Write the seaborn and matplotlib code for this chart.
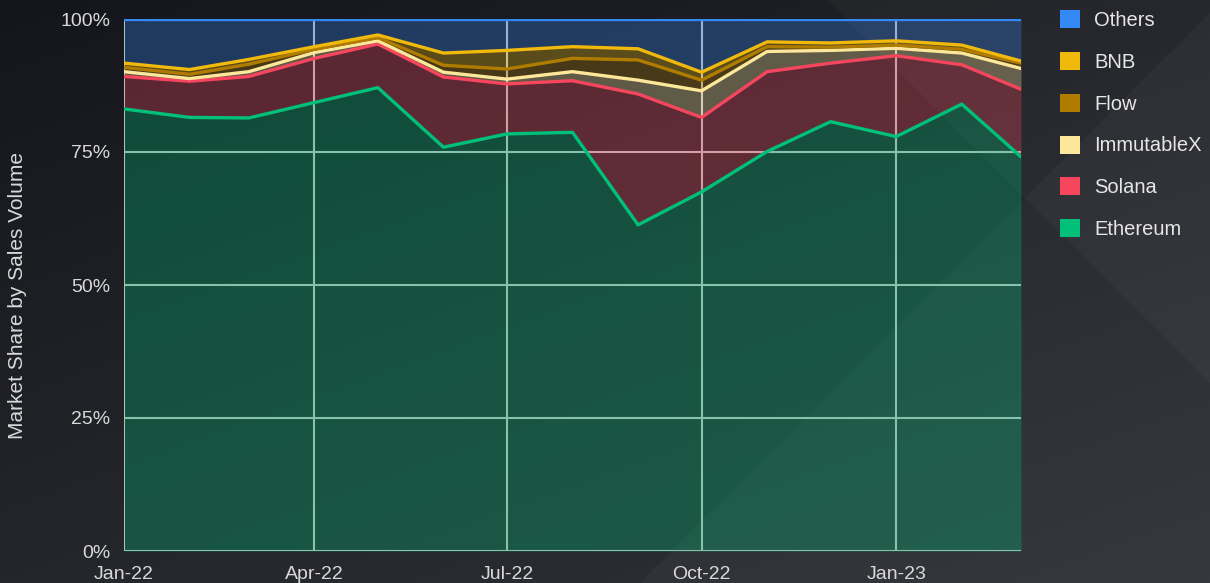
import matplotlib
matplotlib.use("Agg")
import matplotlib.pyplot as plt
from matplotlib.patches import Patch, Polygon
import numpy as np
import pandas as pd
import seaborn as sns

# monthly market share (%) by NFT sales volume, Jan-22 .. Mar-23
months = ["2022-01", "2022-02", "2022-03", "2022-04", "2022-05", "2022-06", "2022-07",
          "2022-08", "2022-09", "2022-10", "2022-11", "2022-12", "2023-01", "2023-02", "2023-03"]
ethereum = [83.1, 81.5, 81.4, 84.3, 87.1, 75.9, 78.4, 78.7, 61.3, 67.5, 75.1, 80.7, 77.9, 84.0, 74.1]
solana = [6.1, 6.8, 7.8, 8.3, 8.2, 13.2, 9.4, 9.7, 24.6, 14.0, 15.0, 11.0, 15.2, 7.4, 12.7]
immutablex = [0.9, 0.5, 0.9, 1.1, 0.6, 0.9, 0.9, 1.7, 2.6, 5.0, 3.8, 2.4, 1.4, 2.2, 3.9]
flow = [0.8, 0.8, 1.4, 0.6, 0.6, 1.3, 1.9, 2.5, 3.8, 2.0, 0.9, 0.6, 0.6, 0.7, 1.0]
bnb = [0.8, 0.9, 0.9, 0.5, 0.5, 2.3, 3.5, 2.2, 2.1, 1.5, 0.9, 0.8, 0.8, 0.8, 0.4]
others = [8.3, 9.5, 7.6, 5.2, 3.0, 6.4, 5.9, 5.2, 5.6, 10.0, 4.3, 4.5, 4.1, 4.9, 7.9]

series_names = ["Ethereum", "Solana", "ImmutableX", "Flow", "BNB", "Others"]
series_colors = ["#00c07a", "#f5465e", "#fde79a", "#b07c00", "#f0b90b", "#3389f5"]

xtick_labels = ["Jan-22", "Apr-22", "Jul-22", "Oct-22", "Jan-23"]
ytick_values = [0, 25, 50, 75, 100]

sns.set_style("white")
plt.rcParams["font.family"] = ["Liberation Sans", "DejaVu Sans"]

TEXT = "#d9d9d9"
W, H = 1210, 583

fig = plt.figure(figsize=(W / 100, H / 100), dpi=100)

# dark backdrop with soft diagonal shapes
bg = fig.add_axes([0, 0, 1, 1])
bg.set_zorder(-10)
yy, xx = np.mgrid[0:1:H * 1j, 0:1:W * 1j]
base = np.array([20, 22, 27], dtype=float)
grad = base + 16 * yy[..., None] + 12 * xx[..., None]
bg.imshow(grad / 255, extent=[0, W, H, 0], aspect="auto")
bg.add_patch(Polygon([(827, 0), (W, 0), (W, 383)], closed=True, fc="white", alpha=0.03, lw=0))
bg.add_patch(Polygon([(640, H), (W, 13), (W, H)], closed=True, fc="white", alpha=0.03, lw=0))
bg.set_xlim(0, W)
bg.set_ylim(H, 0)
bg.axis("off")

ax = fig.add_axes([124 / W, 32 / H, 897 / W, 532 / H])
ax.set_facecolor("none")

df = pd.DataFrame({"month": pd.to_datetime(months), "Ethereum": ethereum, "Solana": solana,
                   "ImmutableX": immutablex, "Flow": flow, "BNB": bnb, "Others": others})
stack = df[series_names].cumsum(axis=1)

lower = np.zeros(len(df))
for name, color in zip(series_names, series_colors):
    upper = stack[name].values
    ax.fill_between(df["month"], lower, upper, color=color, alpha=0.3, lw=0, zorder=1)
    lower = upper

for name, color in zip(series_names, series_colors):
    sns.lineplot(x=df["month"], y=stack[name], color=color, lw=2.4, ax=ax, zorder=3)

ax.set_axisbelow(True)
ax.grid(True, color="#c4c4c4", lw=1.5)
for s in ax.spines.values():
    s.set_visible(False)

ax.set_xlim(df["month"].iloc[0], df["month"].iloc[-1])
ax.set_ylim(0, 100)
ax.set_xticks(pd.to_datetime(xtick_labels, format="%b-%y"))
ax.set_xticklabels(xtick_labels)
ax.set_yticks(ytick_values)
ax.set_yticklabels([f"{v}%" for v in ytick_values])
ax.tick_params(axis="both", length=0, labelsize=14, colors=TEXT)
ax.tick_params(axis="x", pad=11)
ax.tick_params(axis="y", pad=10)
ax.set_xlabel("")
ax.set_ylabel("Market Share by Sales Volume", fontsize=15, color=TEXT)
ax.yaxis.set_label_coords(-0.108, 0.48)

handles = [Patch(facecolor=c, edgecolor="none", label=n)
           for n, c in zip(series_names[::-1], series_colors[::-1])]
fig.legend(handles=handles, loc="upper left", bbox_to_anchor=(1060 / W, 1 - 10 / H),
           frameon=False, fontsize=14.5, labelcolor="#e6e6e6", handlelength=1.0,
           handleheight=1.0, handletextpad=0.7, labelspacing=1.09, borderpad=0,
           borderaxespad=0)

fig.savefig("out.png", dpi=100)
